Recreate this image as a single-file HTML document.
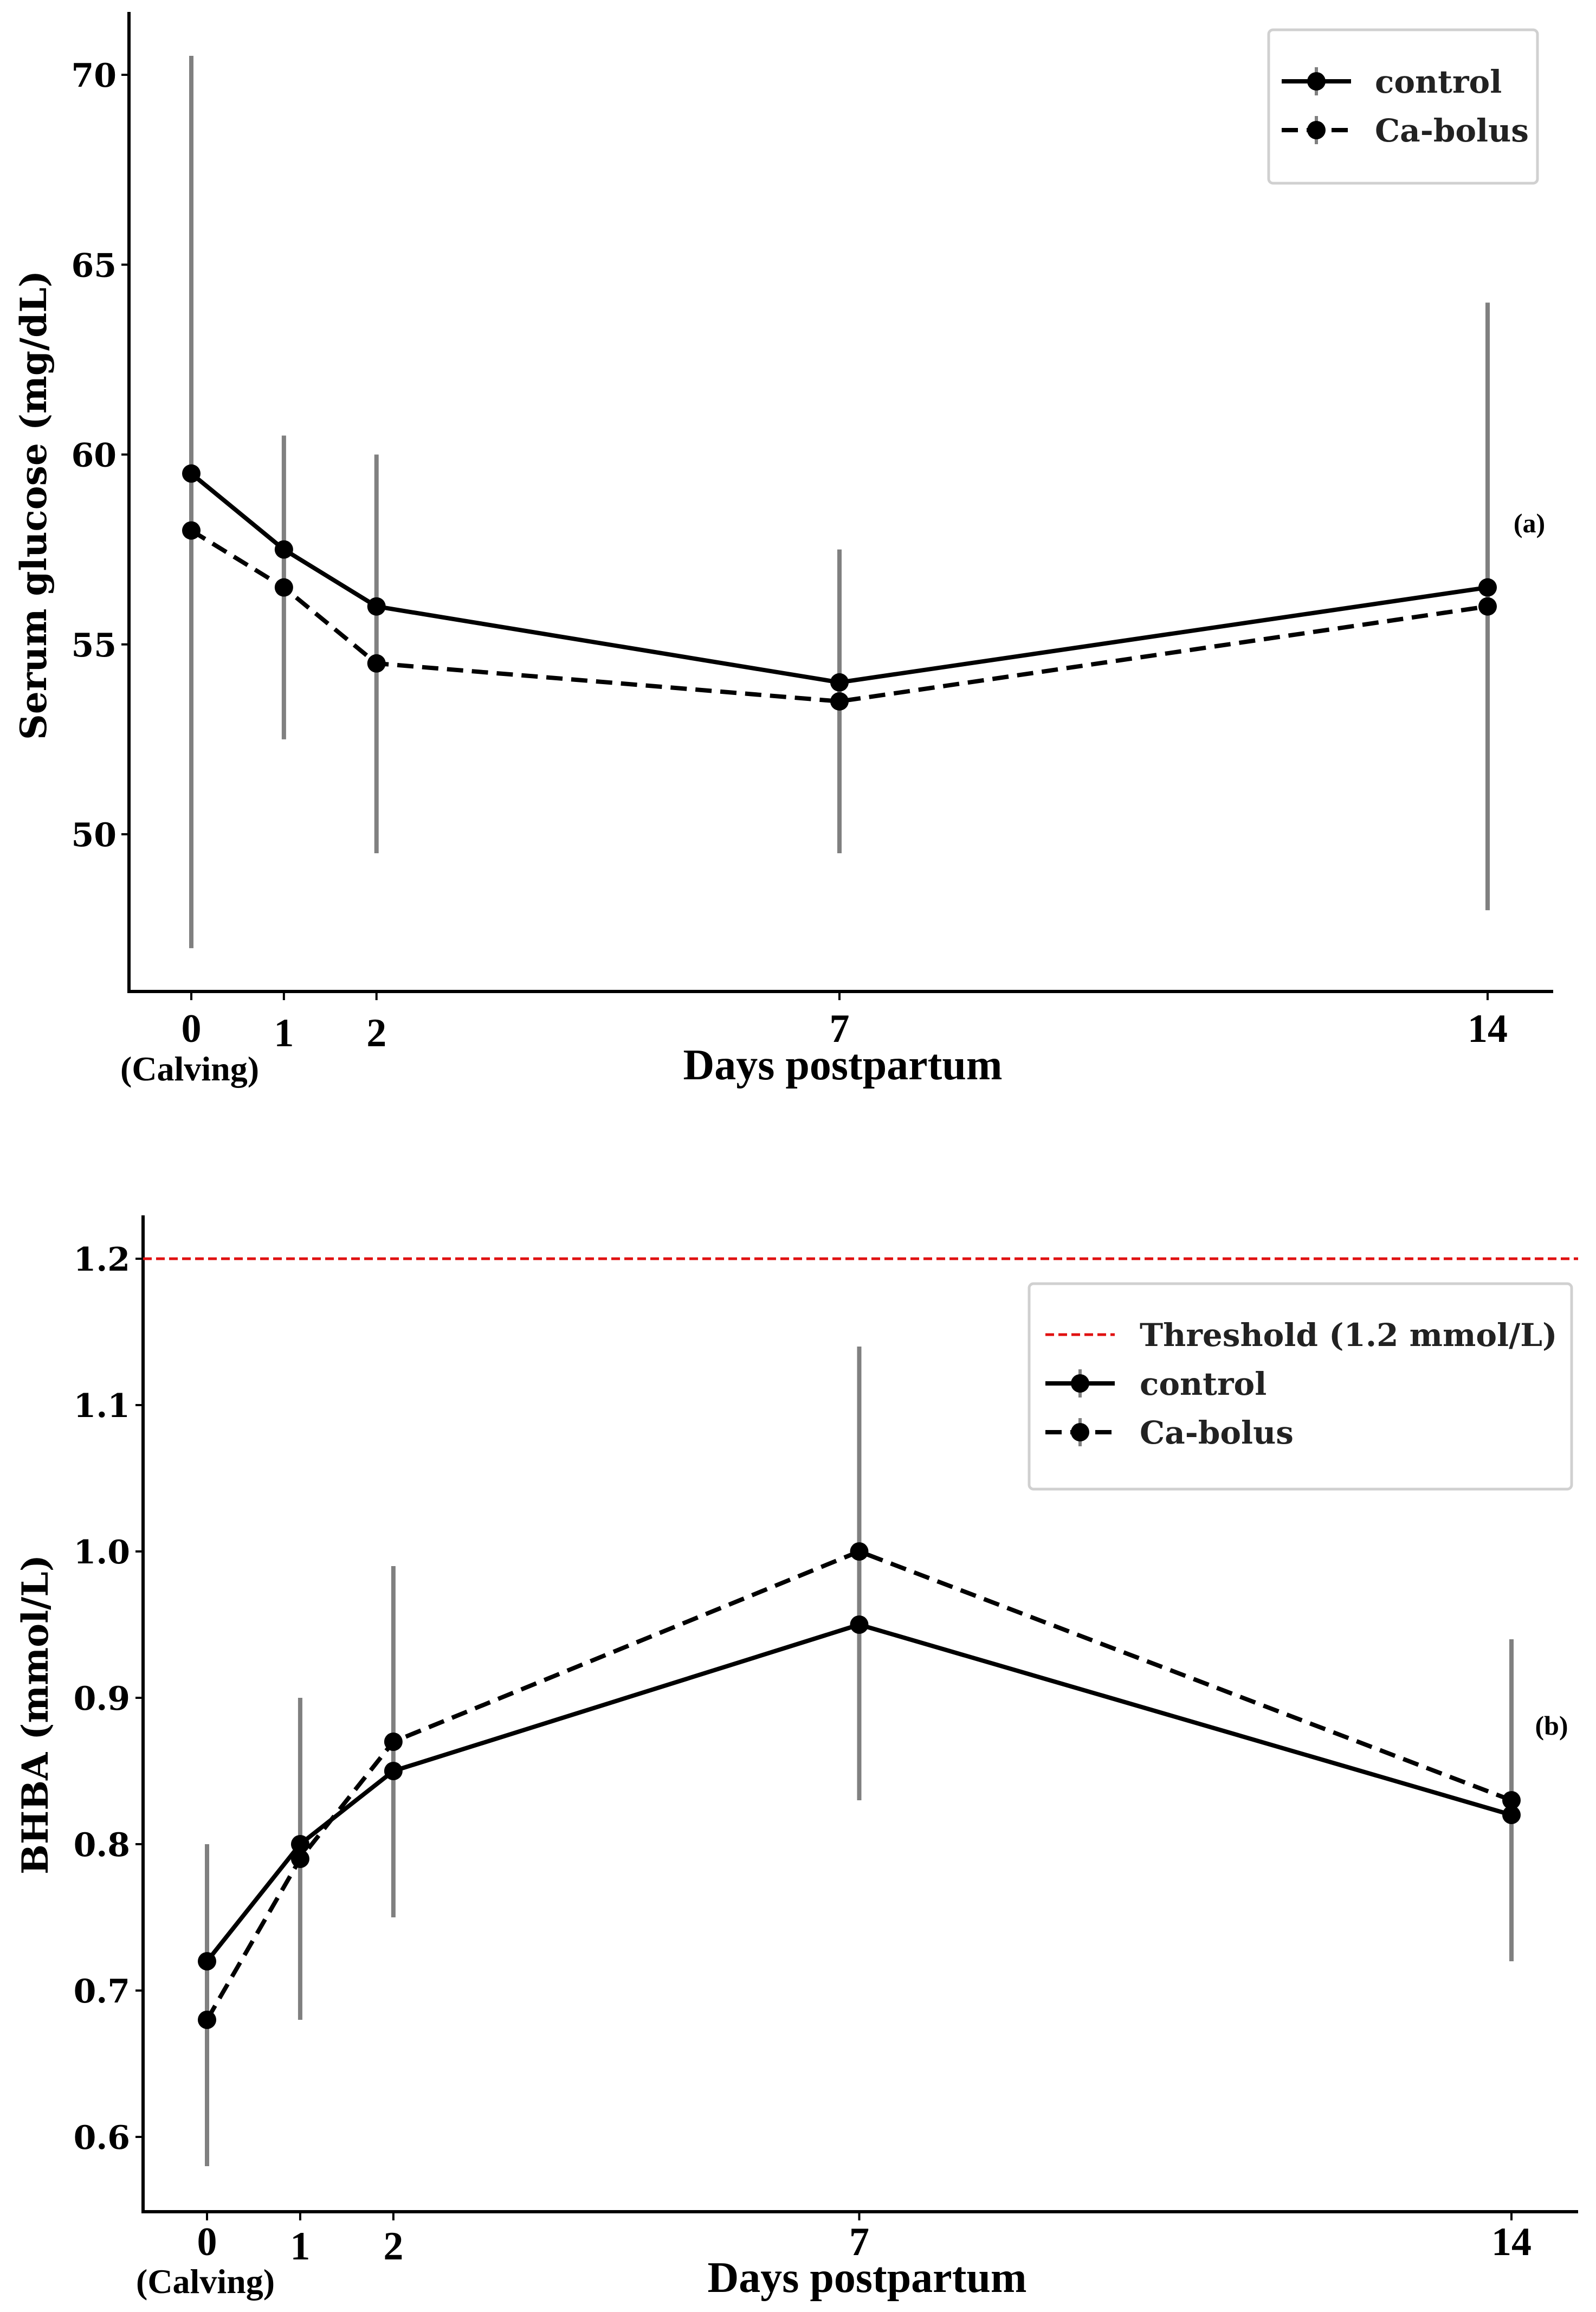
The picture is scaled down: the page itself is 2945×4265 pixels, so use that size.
<!DOCTYPE html>
<html><head><meta charset="utf-8"><style>
html,body{margin:0;padding:0;background:#fff;}
svg{display:block;}
</style></head><body>
<svg id="fig" width="2945" height="4265" viewBox="0 0 2945 4265" xmlns="http://www.w3.org/2000/svg">
<rect width="2945" height="4265" fill="#fff"/>
<g id="chartA"></g>
<g id="chartB"></g>
</svg>
<script>
// Shared
const days = [0, 1, 2, 7, 14];
const dayLabels = ["0", "1", "2", "7", "14"];
// Chart A: serum glucose
const glucoseControl = [59.5, 57.5, 56, 54, 56.5];
const glucoseBolus = [58, 56.5, 54.5, 53.5, 56];
const glucoseErrLo = [47, 52.5, 49.5, 49.5, 48];
const glucoseErrHi = [70.5, 60.5, 60, 57.5, 64];
const glucoseTicks = [50, 55, 60, 65, 70];
// Chart B: BHBA
const bhbaControl = [0.72, 0.80, 0.85, 0.95, 0.82];
const bhbaBolus = [0.68, 0.79, 0.87, 1.00, 0.83];
const bhbaErrLo = [0.58, 0.68, 0.75, 0.83, 0.72];
const bhbaErrHi = [0.80, 0.90, 0.99, 1.14, 0.94];
const bhbaTicks = [0.6, 0.7, 0.8, 0.9, 1.0, 1.1, 1.2];
const bhbaThreshold = [1.2];

const NS = "http://www.w3.org/2000/svg";
function mk(parent, tag, attrs, text) {
  const e = document.createElementNS(NS, tag);
  for (const k in attrs) e.setAttribute(k, attrs[k]);
  if (text !== undefined) e.textContent = text;
  parent.appendChild(e);
  return e;
}

function drawChart(g, cfg) {
  const X = d => cfg.x0 + (d - 0) * (cfg.x14 - cfg.x0) / 14;
  const Y = v => cfg.yA + (v - cfg.vA) * (cfg.yB - cfg.yA) / (cfg.vB - cfg.vA);
  let e = mk(g, "line", {x1: cfg.axX, y1: cfg.axTop, x2: cfg.axX, y2: cfg.axY, stroke: "#000", "stroke-width": 6});
  
  
  e = mk(g, "line", {x1: cfg.axX - 3, y1: cfg.axY, x2: cfg.axRight, y2: cfg.axY, stroke: "#000", "stroke-width": 6});
  
  
  cfg.ticks.forEach(t => {
    const y = Y(t);
    e = mk(g, "line", {x1: cfg.axX - 14, y1: y, x2: cfg.axX, y2: y, stroke: "#000", "stroke-width": 4});
    
    
    e = mk(g, "text", {x: cfg.yLabX, y: y + 22, "text-anchor": "end", "font-family": "DejaVu Serif, serif", "font-weight": "bold", "font-size": 60}, cfg.tickFmt(t));
    
    
  });
  days.forEach((d, i) => {
    const x = X(d);
    e = mk(g, "line", {x1: x, y1: cfg.axY, x2: x, y2: cfg.axY + 16, stroke: "#000", "stroke-width": 4});
    
    
    e = mk(g, "text", {x: x, y: cfg.xLabY + (i === 1 || i === 2 ? 8 : 0), "text-anchor": "middle", "font-family": "Liberation Serif, serif", "font-weight": "bold", "font-size": 74}, dayLabels[i]);
    
    
  });
  e = mk(g, "text", {x: X(0) - 3, y: cfg.calvY, "text-anchor": "middle", "font-family": "Liberation Serif, serif", "font-weight": "bold", "font-size": 64}, "(Calving)");
  
  
  e = mk(g, "text", {x: cfg.xTitleX, y: cfg.calvY - 2, "text-anchor": "middle", "font-family": "Liberation Serif, serif", "font-weight": "bold", "font-size": 80}, "Days postpartum");
  
  
  e = mk(g, "text", {x: 0, y: 0, "text-anchor": "middle", "font-family": "DejaVu Serif, serif", "font-weight": "bold", "font-size": 66, transform: `translate(${cfg.yTitleX},${cfg.yTitleY}) rotate(-90)`}, cfg.yTitle);
  
  
  if (cfg.threshold) {
    e = mk(g, "line", {x1: cfg.axX, y1: Y(cfg.threshold[0]), x2: cfg.axRight, y2: Y(cfg.threshold[0]), stroke: "#e01010", "stroke-width": 5, "stroke-dasharray": "16 8"});
    
    
  }
  days.forEach((d, i) => {
    e = mk(g, "line", {x1: X(d), y1: Y(cfg.lo[i]), x2: X(d), y2: Y(cfg.hi[i]), stroke: "#808080", "stroke-width": 8});
    
    
  });
  const series = [[cfg.control, null, 'control'], [cfg.bolus, "30 16", 'ca-bolus']];
  series.forEach(([vals, dash, nm]) => {
    const pts = days.map((d, i) => X(d) + "," + Y(vals[i])).join(" ");
    const attrs = {points: pts, fill: "none", stroke: "#000", "stroke-width": 8, "stroke-linejoin": "round"};
    if (dash) attrs["stroke-dasharray"] = dash;
    e = mk(g, "polyline", attrs);
    
    
    days.forEach((d, i) => {
      e = mk(g, "circle", {cx: X(d), cy: Y(vals[i]), r: 17, fill: "#000"});
      
      
    });
  });
  e = mk(g, "text", {x: cfg.panelX, y: cfg.panelY, "text-anchor": "middle", "font-family": "Liberation Serif, serif", "font-weight": "bold", "font-size": 50}, cfg.panel);
  
  
  const L = cfg.legend;
  const lg = mk(g, "g", {});
  
  
  e = mk(lg, "rect", {x: L.x, y: L.y, width: L.w, height: L.h, rx: 8, fill: "#fff", stroke: "#d0d0d0", "stroke-width": 5});
  
  
  L.entries.forEach((en, k) => {
    const y = L.rowY[k];
    const eg = mk(lg, "g", {});
    
    
    if (en.type === 'thr') {
      mk(eg, "line", {x1: L.lx1, y1: y, x2: L.lx2, y2: y, stroke: "#e01010", "stroke-width": 5, "stroke-dasharray": "16 8"});
    } else {
      mk(eg, "line", {x1: (L.lx1 + L.lx2) / 2, y1: y - 26, x2: (L.lx1 + L.lx2) / 2, y2: y + 26, stroke: "#808080", "stroke-width": 6});
      const a = {x1: L.lx1, y1: y, x2: L.lx2, y2: y, stroke: "#000", "stroke-width": 8};
      if (en.type === 'dash') a["stroke-dasharray"] = "30 16";
      mk(eg, "line", a);
      mk(eg, "circle", {cx: (L.lx1 + L.lx2) / 2, cy: y, r: 17, fill: "#000"});
    }
    mk(eg, "text", {x: L.tx, y: y + 21, "font-family": "DejaVu Serif, serif", "font-weight": "bold", "font-size": 58, fill: "#222"}, en.label);
  });
}

drawChart(document.getElementById("chartA"), {
  x0: 353, x14: 2745, vA: 70, yA: 138, vB: 50, yB: 1539,
  axX: 238, axY: 1829, axTop: 22, axRight: 2866,
  ticks: glucoseTicks, tickFmt: t => String(t), yLabX: 215,
  xLabY: 1922, calvY: 1993, xTitleX: 1555,
  yTitle: "Serum glucose (mg/dL)", yTitleX: 85, yTitleY: 932,
  lo: glucoseErrLo, hi: glucoseErrHi, control: glucoseControl, bolus: glucoseBolus,
  panel: "(a)", panelX: 2822, panelY: 982,
  legend: {x: 2341, y: 55, w: 496, h: 283, lx1: 2365, lx2: 2493, tx: 2537, rowY: [150, 240],
    entries: [{type: 'solid', label: 'control'}, {type: 'dash', label: 'Ca-bolus'}]}
});
drawChart(document.getElementById("chartB"), {
  x0: 382, x14: 2789, vA: 1.2, yA: 2322, vB: 0.6, yB: 3942,
  axX: 264, axY: 4080, axTop: 2242, axRight: 2912,
  ticks: bhbaTicks, tickFmt: t => t.toFixed(1), yLabX: 240,
  xLabY: 4160, calvY: 4230, xTitleX: 1600,
  yTitle: "BHBA (mmol/L)", yTitleX: 88, yTitleY: 3163,
  lo: bhbaErrLo, hi: bhbaErrHi, control: bhbaControl, bolus: bhbaBolus,
  threshold: bhbaThreshold,
  panel: "(b)", panelX: 2863, panelY: 3200,
  legend: {x: 1899, y: 2368, w: 1001, h: 379, lx1: 1929, lx2: 2057, tx: 2103, rowY: [2462, 2552, 2642],
    entries: [{type: 'thr', label: 'Threshold (1.2 mmol/L)'}, {type: 'solid', label: 'control'}, {type: 'dash', label: 'Ca-bolus'}]}
});
</script>
</body></html>
